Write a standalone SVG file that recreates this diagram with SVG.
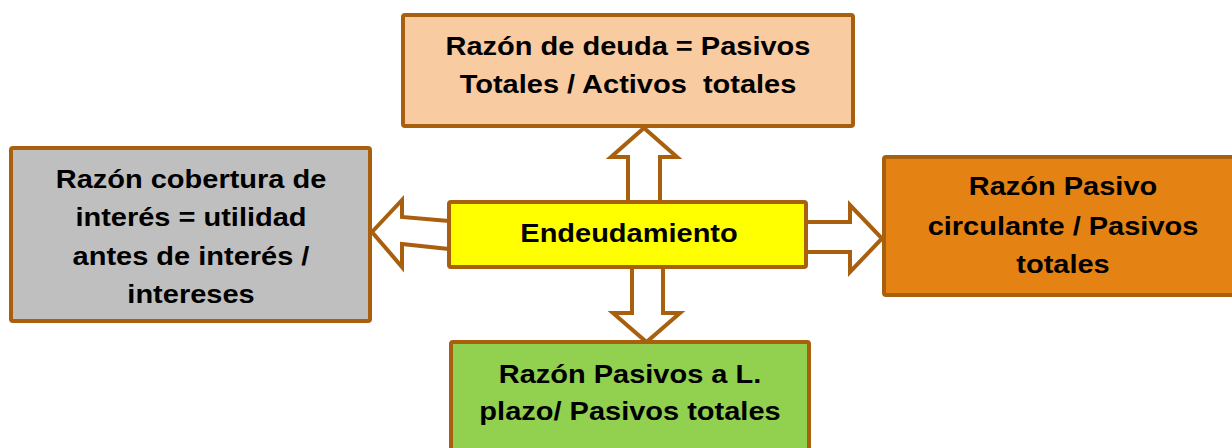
<svg xmlns="http://www.w3.org/2000/svg" width="1232" height="448" viewBox="0 0 1232 448">
<style>
.box{stroke:#A8600F;stroke-width:4;stroke-linejoin:round}
.arr{fill:#FFFFFF;stroke:#A8600F;stroke-width:4;stroke-linejoin:miter}
.t{font-family:"Liberation Sans",Arial,sans-serif;font-weight:bold;font-size:25px;fill:#000;text-anchor:middle}
</style>
<rect width="1232" height="448" fill="#FFFFFF"/>
<g id="connectors">
<polygon class="arr" points="628,202 628,157 611,157 644,128 677,157 660,157 660,202"/>
<polygon class="arr" points="632,267 632,313 613,313 646.5,342 680,313 663,313 663,267"/>
<polygon class="arr" points="449,221 402,217 402,200 372,232 402,267 402,244 449,249"/>
<polygon class="arr" points="806,222 850,222 850,205 882,238.5 850,272 850,252 806,252"/>
</g>
<g id="node-top">
<rect class="box" x="403" y="15" width="450" height="111" rx="2" fill="#F8CBA0"/>
<text class="t" transform="translate(628 0) scale(1.16 1)"><tspan x="0" y="55">Razón de deuda = Pasivos</tspan><tspan x="0" y="93">Totales / Activos&#160; totales</tspan></text>
</g>
<g id="node-left">
<rect class="box" x="11" y="148" width="359" height="173" rx="2" fill="#BFBFBF"/>
<text class="t" transform="translate(191 0) scale(1.16 1)"><tspan x="0" y="188">Razón cobertura de</tspan><tspan x="0" y="226.5">interés = utilidad</tspan><tspan x="0" y="265">antes de interés /</tspan><tspan x="0" y="303.5">intereses</tspan></text>
</g>
<g id="node-center">
<rect class="box" x="449" y="202" width="357" height="65" rx="2" fill="#FFFF00"/>
<text class="t" transform="translate(629 0) scale(1.16 1)"><tspan x="0" y="242">Endeudamiento</tspan></text>
</g>
<g id="node-right">
<rect class="box" x="884" y="157" width="360" height="138" rx="2" fill="#E48313"/>
<text class="t" transform="translate(1063 0) scale(1.16 1)"><tspan x="0" y="195">Razón Pasivo</tspan><tspan x="0" y="235">circulante / Pasivos</tspan><tspan x="0" y="273">totales</tspan></text>
</g>
<g id="node-bottom">
<rect class="box" x="451" y="342" width="358" height="120" rx="2" fill="#92D050"/>
<text class="t" transform="translate(630 0) scale(1.16 1)"><tspan x="0" y="383">Razón Pasivos a L.</tspan><tspan x="0" y="420">plazo/ Pasivos totales</tspan></text>
</g>
</svg>
